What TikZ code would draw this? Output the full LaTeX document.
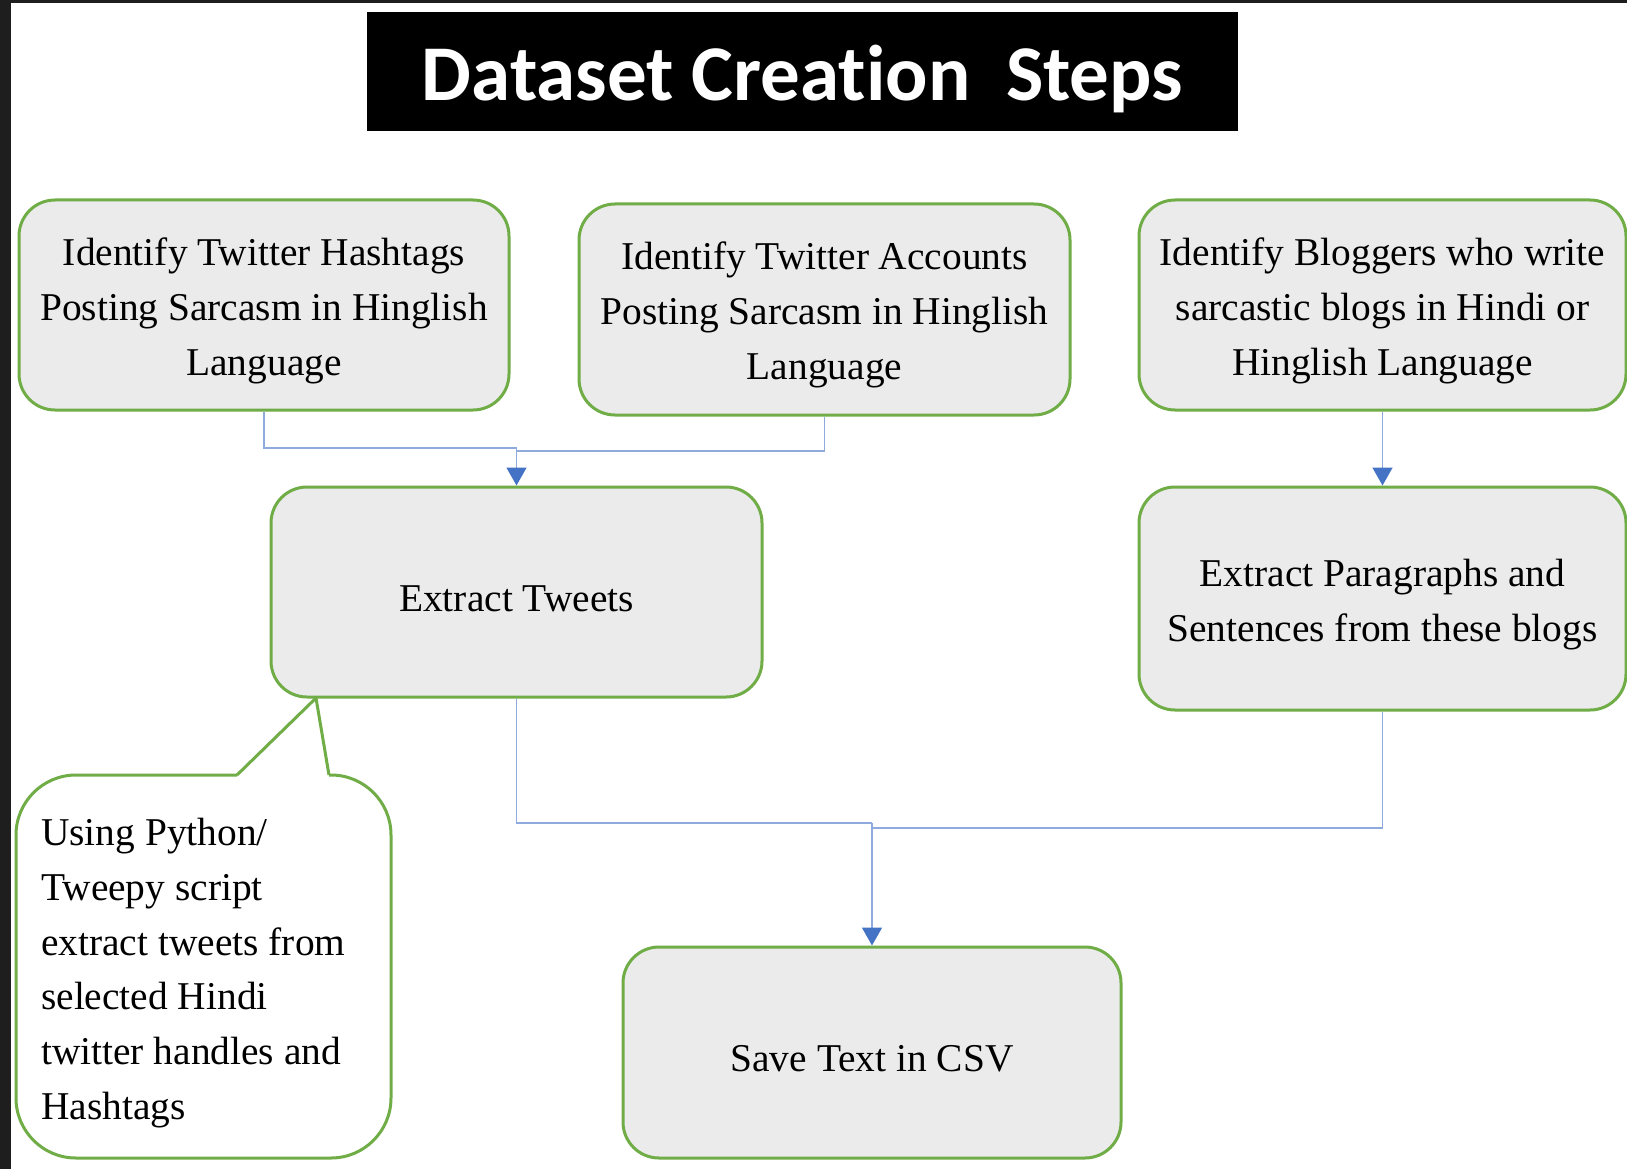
\documentclass[tikz,border=0pt]{standalone}
\usepackage{fontspec}
\setmainfont{Liberation Serif}
\newfontfamily\titlefont{Carlito}[Ligatures=NoCommon]
\usetikzlibrary{arrows.meta}

\definecolor{stepgreen}{HTML}{70AD47}
\definecolor{stepgray}{HTML}{EBEBEB}
\definecolor{linkblue}{HTML}{8FAADC}
\definecolor{tipblue}{HTML}{4472C4}
\definecolor{framedark}{HTML}{1E1E1E}

\newcommand{\bodyfont}{\fontsize{39.4}{54.8}\selectfont}
% taller first line pushes the box text a little down
\newcommand{\tstrut}{\rule{0pt}{39pt}}

\tikzset{
  stepbox/.style={draw=stepgreen, line width=3pt, fill=stepgray, rounded corners=36pt,
    align=center, inner sep=0pt, font=\bodyfont},
  notebox/.style={draw=stepgreen, line width=3pt, fill=white},
  link/.style={draw=linkblue, line width=1.5pt},
  linkarrow/.style={link, -{Triangle[width=20pt,length=18pt,color=tipblue]}},
}

\begin{document}
\begin{tikzpicture}[x=1pt,y=-1pt]
  \useasboundingbox (0,0) rectangle (1627,1169);
  % dark screenshot frame on the left and top
  \fill[framedark] (0,0) rectangle (1627,1169);
  \fill[white] (11,3) rectangle (1627,1169);

  % title bar
  \node[fill=black, text=white, minimum width=871pt, minimum height=119pt, inner sep=0pt,
    text height=59pt, text depth=0pt, font=\titlefont\bfseries\fontsize{79}{90}\selectfont]
    (title) at (802.5,71.5) {Dataset Creation\ \ Steps};

  % top row
  \node[stepbox, minimum width=490pt, minimum height=210pt] (hash) at (264,305)
    {\tstrut Identify Twitter Hashtags\\Posting Sarcasm in Hinglish\\Language};
  \node[stepbox, minimum width=491pt, minimum height=211pt] (acct) at (824.5,309.5)
    {\tstrut Identify Twitter Accounts\\Posting Sarcasm in Hinglish\\Language};
  \node[stepbox, minimum width=487pt, minimum height=210pt] (blog) at (1382.5,305)
    {\tstrut Identify Bloggers who write\\sarcastic blogs in Hindi or\\Hinglish Language};

  % middle row
  \node[stepbox, minimum width=491pt, minimum height=210pt] (tweets) at (516.5,592)
    {\tstrut Extract Tweets};
  \node[stepbox, minimum width=487pt, minimum height=223pt] (paras) at (1382.5,598.5)
    {\tstrut Extract Paragraphs and\\Sentences from these blogs};

  % bottom
  \node[stepbox, minimum width=498pt, minimum height=211pt] (csv) at (872,1052.5)
    {\tstrut Save Text in CSV};

  % callout with its pointer to the tweets box
  \draw[notebox, rounded corners=60pt] (237,775) -- (16,775) -- (16,1158) -- (391,1158)
    -- (391,775) -- (329,775);
  \draw[notebox, line join=round] (237,775) -- (316,698) -- (329,775);
  \node[anchor=north west, align=left, inner sep=0pt, font=\bodyfont] (note) at (41,818)
    {Using Python/\\Tweepy script\\extract tweets from\\selected Hindi\\twitter handles and\\Hashtags};

  % connectors
  \coordinate (twin) at (tweets.north |- 0,448);
  \coordinate (csvin) at (csv.north |- 0,823);
  \draw[link] (hash.south) |- (twin);
  \draw[link] (acct.south) |- (tweets.north |- 0,451);
  \draw[linkarrow] (twin) -- (tweets.north);
  \draw[linkarrow] (blog.south) -- (paras.north);
  \draw[link] (tweets.south) |- (csvin);
  \draw[link] (paras.south) |- (csv.north |- 0,828);
  \draw[linkarrow] (csvin) -- (csv.north);
\end{tikzpicture}
\end{document}
